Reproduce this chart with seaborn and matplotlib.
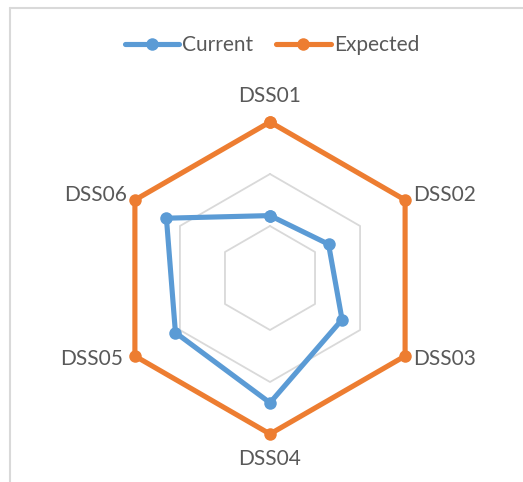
import numpy as np
import pandas as pd
import matplotlib
matplotlib.use("Agg")
import matplotlib.pyplot as plt
from matplotlib.lines import Line2D
import seaborn as sns

categories = ["DSS01", "DSS02", "DSS03", "DSS04", "DSS05", "DSS06"]
current = [1.2, 1.3, 1.6, 2.4, 2.1, 2.3]
expected = [3, 3, 3, 3, 3, 3]
grid_levels = [1, 2, 3]

sns.set_theme(style="white")
plt.rcParams["font.family"] = ["Lato", "DejaVu Sans"]

BLUE = "#5B9BD5"
ORANGE = "#ED7D31"
GRID = "#D9D9D9"
TEXT = "#595959"
FS = 15

n = len(categories)
theta = np.linspace(0, 2 * np.pi, n, endpoint=False)
theta_closed = np.append(theta, theta[0])

rows = []
for name, vals in [("Current", current), ("Expected", expected)]:
    v = list(vals) + [vals[0]]
    for i, (t, val) in enumerate(zip(theta_closed, v)):
        rows.append({"series": name, "theta": t, "value": val, "order": i})
df = pd.DataFrame(rows)

W, H = 523, 482
fig = plt.figure(figsize=(W / 100, H / 100), dpi=100)
cx, cy, R = 270, 278, 156
ax = fig.add_axes([(cx - R) / W, (H - cy - R) / H, 2 * R / W, 2 * R / H], projection="polar")
ax.set_theta_zero_location("N")
ax.set_theta_direction(-1)
ax.set_ylim(0, 3)
ax.grid(False)
ax.spines["polar"].set_visible(False)
ax.set_xticks([])
ax.set_yticks([])
ax.set_facecolor("none")

# hexagonal gridlines
for lv in grid_levels:
    ax.plot(theta_closed, [lv] * (n + 1), color=GRID, lw=1.3, zorder=1, clip_on=False)

sns.lineplot(data=df, x="theta", y="value", hue="series",
             palette={"Current": BLUE, "Expected": ORANGE}, sort=False,
             estimator=None, marker="o", markersize=9, markeredgewidth=0,
             linewidth=3.7, ax=ax, legend=False, zorder=3)
for l in ax.lines:
    l.set_clip_on(False)
ax.set_xlabel("")
ax.set_ylabel("")
ax.set_ylim(0, 3)

# category labels (offsets in px -> points)
px = 0.72
label_cfg = [
    (0, 0, 16, "center", "bottom"),
    (1, 8, 5, "left", "center"),
    (2, 8, -3, "left", "center"),
    (3, 0, -15, "center", "top"),
    (4, -12, -3, "right", "center"),
    (5, -8, 5, "right", "center"),
]
for i, dx, dy, ha, va in label_cfg:
    ax.annotate(categories[i], xy=(theta[i], 3), xytext=(dx * px, dy * px),
                textcoords="offset points", ha=ha, va=va, fontsize=FS,
                color=TEXT, annotation_clip=False)

handles = [
    Line2D([0], [0], color=BLUE, lw=3.7, marker="o", markersize=9, markeredgewidth=0),
    Line2D([0], [0], color=ORANGE, lw=3.7, marker="o", markersize=9, markeredgewidth=0),
]
fig.legend(handles, ["Current", "Expected"], loc="center", bbox_to_anchor=(272 / W, 1 - 45 / H),
           ncol=2, frameon=False, fontsize=FS, handlelength=2.6, handletextpad=0.15,
           columnspacing=1.1, labelcolor=TEXT)

# chart border (partially visible)
fig.add_artist(Line2D([10 / W, 1.0], [1 - 8 / H, 1 - 8 / H], color=GRID, lw=1.5, transform=fig.transFigure))
fig.add_artist(Line2D([10 / W, 10 / W], [0, 1 - 8 / H], color=GRID, lw=1.5, transform=fig.transFigure))

fig.savefig("out.png", dpi=100, facecolor="white")
